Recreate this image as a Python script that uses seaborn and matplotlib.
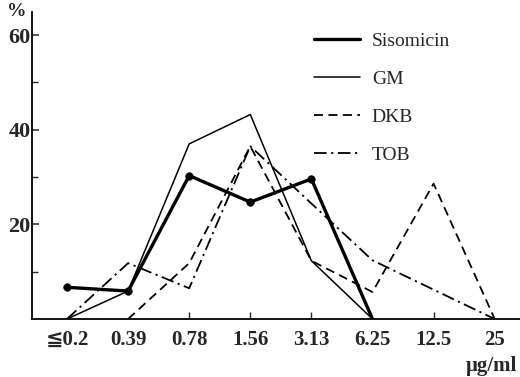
import numpy as np
import pandas as pd
import seaborn as sns
import matplotlib.pyplot as plt

# MIC distribution (% of strains) per antibiotic
concentrations = ["≦0.2", "0.39", "0.78", "1.56", "3.13", "6.25", "12.5", "25"]
sisomicin = [6.7, 5.9, 30.3, 24.7, 29.6, 0.0, np.nan, np.nan]
gm = [0.0, 5.9, 37.0, 43.2, 12.3, 0.0, np.nan, np.nan]
dkb = [np.nan, 0.0, 11.8, 36.5, 12.3, 5.7, 28.6, 0.0]
tob = [0.0, 11.8, 6.5, 36.5, 24.4, 12.4, 6.2, 0.0]

sns.set_style("white")
plt.rcParams["font.family"] = ["Liberation Serif", "DejaVu Sans"]

pos = np.arange(len(concentrations))
df = pd.DataFrame({"pos": pos, "Sisomicin": sisomicin, "GM": gm,
                   "DKB": dkb, "TOB": tob})

fig = plt.figure(figsize=(5.2, 3.77), dpi=100)
ax = fig.add_axes([32 / 520, 1 - 319 / 377, 488 / 520, 307 / 377])

styles = {
    "Sisomicin": dict(lw=2.4, linestyle="-"),
    "GM": dict(lw=1.1, linestyle="-"),
    "DKB": dict(lw=1.3, linestyle=(0, (5, 3))),
    "TOB": dict(lw=1.3, linestyle=(0, (7, 2.5, 1.2, 2.5))),
}
for name, st in styles.items():
    sub = df[["pos", name]].dropna()
    sns.lineplot(data=sub, x="pos", y=name, ax=ax, color="black",
                 label=name, **st)

sis = df[["pos", "Sisomicin"]].iloc[:5]
sns.scatterplot(data=sis, x="pos", y="Sisomicin", ax=ax, color="black",
                s=30, edgecolor="black", zorder=5, legend=False)

ax.set_xlim((32 - 67) / 61.1, (520 - 67) / 61.1)
ax.set_ylim(0, (319 - 12) / 4.733)
ax.set_xlabel("")
ax.set_ylabel("")

for s in ["top", "right"]:
    ax.spines[s].set_visible(False)
for s in ["left", "bottom"]:
    ax.spines[s].set_color("black")
    ax.spines[s].set_linewidth(1.3)

ax.set_yticks([20, 40, 60])
ax.set_yticklabels(["20", "40", "60"], fontsize=16, fontweight="bold")
ax.set_yticks([10, 30, 50], minor=True)
ax.tick_params(axis="y", which="major", direction="in", length=5, width=1.1,
               pad=1, left=True)
ax.tick_params(axis="y", which="minor", direction="in", length=4, width=1.0,
               left=True)

ax.set_xticks(pos)
ax.set_xticklabels(concentrations, fontsize=15, fontweight="bold")
ax.tick_params(axis="x", which="major", direction="in", length=5, width=1.0,
               pad=8, bottom=True)
for i, tk in enumerate(ax.xaxis.get_major_ticks()):
    if i not in (2, 3, 4, 6):
        tk.tick1line.set_visible(False)

leg = ax.legend(loc="upper left", bbox_to_anchor=(296 / 520, 1 - 15 / 377),
                bbox_transform=fig.transFigure, frameon=False, fontsize=14,
                handlelength=2.4, handletextpad=0.6, labelspacing=1.05)

fig.text(17 / 520, 1 - 12 / 377, "%", ha="center", va="center",
         fontsize=14, fontweight="bold")
fig.text(491 / 520, 1 - 366 / 377, "μg/ml", ha="center", va="center",
         fontsize=15, fontweight="bold")

fig.savefig("out.png", dpi=100, facecolor="white")
